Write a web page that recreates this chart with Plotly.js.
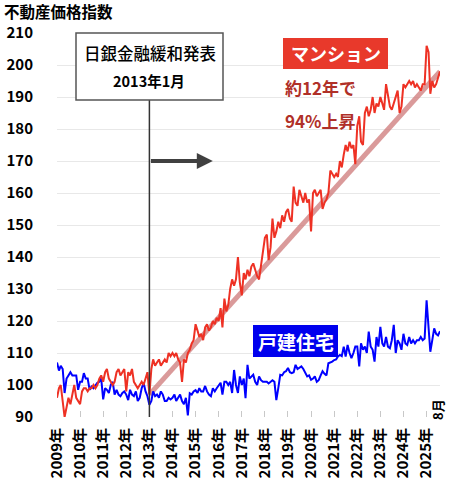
<!DOCTYPE html>
<html><head><meta charset="utf-8">
<script src="https://cdn.plot.ly/plotly-3.0.1.min.js"></script>
<style>html,body{margin:0;padding:0;background:#fff}#chart{width:450px;height:483px}</style>
</head><body><div id="chart"></div>
<script>
// マンション (monthly, Jan..Dec)
const red2009=[96,99,100,95,90,93,96,94,97,100,96,95];
const red2010=[94,98,99,99,98,99,99,100,99,100,102,103];
const red2011=[101,104,105,102,101,100,101,104,105,103,104,105];
const red2012=[98,104,103,105,101,100,99,100,101,100,102,104];
const red2013=[97,105,108,106,107,108,106,107,108,107,110,109];
const red2014=[110,109,110,108,107,101,108,107,110,111,113,114];
const red2015=[119,117,115,116,114,118,119,117,118,120,119,121];
const red2016=[120,124,118,127,123,125,130,133,131,133,140,132];
const red2017=[128,135,133,136,134,137,138,136,134,133,137,142];
const red2018=[146,147,139,143,152,146,148,151,149,153,151,154];
const red2019=[155,152,151,162,157,156,161,159,157,160,157,158];
const red2020=[148,160,161,159,160,161,155,157,158,160,167,166];
const red2021=[165,166,165,170,168,172,175,173,176,174,175,169];
const red2022=[181,184,176,175,185,187,184,186,190,185,188,187];
const red2023=[190,188,186,194,191,187,186,188,190,192,185,187];
const red2024=[194,193,194,195,194,195,193,194,193,192,194,194];
const red2025=[206,204,191,195,193,194,196,198];
// 戸建住宅
const blue2009=[107,104.5,106,105,97.5,102,103,104,103,103,103,98.5];
const blue2010=[101,101,103.7,102,102,98.5,99.5,99,100,100.7,101,102];
const blue2011=[95.5,99,98.5,97.5,100,101,97,98.5,97,96.5,97.5,98];
const blue2012=[97,95.3,98.5,97,96.5,98,95,96,99,100.7,98,96.5];
const blue2013=[93.8,95,98,96.5,97,96,98,97,95,95,96,95.5];
const blue2014=[96,97,95,96,97,95,94,96,90.5,97.4,97,98];
const blue2015=[98.4,97.5,99,98,98,99.7,98,97,96.5,99,98,99];
const blue2016=[99.7,100.7,97,101,101,100,101,97.5,104.7,100,97.5,102.7];
const blue2017=[100,102,95.9,106.3,102,102.7,103.2,101,100,102.7,101.5,101];
const blue2018=[101,101,100.5,101,101.5,101,95.3,99,103.2,103,104,104.3];
const blue2019=[105.3,104,103.7,104,106.3,105,105.3,105.8,105,103.7,102.7,103];
const blue2020=[101.6,102,102.7,101,101.5,103,104.3,103.5,103,106.8,107,107.3];
const blue2021=[107.8,108,108.9,109.4,109,112,108.9,112.5,110,108.4,110,112];
const blue2022=[112,105.8,113,111,112,110,116.7,112,111,107.3,115,112];
const blue2023=[118.2,113,112,115,112,111.5,114,118.8,110,114,113,111];
const blue2024=[116,113,112.5,115,113,114,113,114,114,115,114,114.5];
const blue2025=[126.5,118,110.4,114,117.7,116,115.5,116.8];

const trendX=['2013-01-01','2025-08-01'];
const trendY=[97,198];

const tickVals=['2009-01-01','2010-01-01','2011-01-01','2012-01-01','2013-01-01','2014-01-01','2015-01-01','2016-01-01','2017-01-01','2018-01-01','2019-01-01','2020-01-01','2021-01-01','2022-01-01','2023-01-01','2024-01-01','2025-01-01'];
const tickLabels=['2009年','2010年','2011年','2012年','2013年','2014年','2015年','2016年','2017年','2018年','2019年','2020年','2021年','2022年','2023年','2024年','2025年'];
const yTicks=[90,100,110,120,130,140,150,160,170,180,190,200,210];

const redY=[].concat(red2009,red2010,red2011,red2012,red2013,red2014,red2015,red2016,red2017,red2018,red2019,red2020,red2021,red2022,red2023,red2024,red2025);
const blueY=[].concat(blue2009,blue2010,blue2011,blue2012,blue2013,blue2014,blue2015,blue2016,blue2017,blue2018,blue2019,blue2020,blue2021,blue2022,blue2023,blue2024,blue2025);
function months(n){const a=[];for(let i=0;i<n;i++){const y=2009+Math.floor(i/12),m=i%12+1;a.push(y+'-'+String(m).padStart(2,'0')+'-01');}return a;}
const X=months(redY.length);

const F='"Noto Sans CJK JP", "Noto Sans", sans-serif';
const W=450,H=483,L=57,R=10,T=33,B=66;
const pw=W-L-R, ph=H-T-B;
const px=v=>(v-L)/pw, py=v=>(H-B-v)/ph;

const data=[
 {x:trendX,y:trendY,mode:'lines',line:{color:'rgba(205,120,120,0.75)',width:5},hoverinfo:'skip'},
 {x:X,y:blueY,mode:'lines',line:{color:'#0000ff',width:2},name:'戸建住宅'},
 {x:X,y:redY,mode:'lines',line:{color:'#ee3124',width:2},name:'マンション'}
];
const layout={
 width:W,height:H,margin:{l:L,r:R,t:T,b:B},showlegend:false,
 paper_bgcolor:'#fff',plot_bgcolor:'#fff',font:{family:F,color:'#000'},
 title:{text:'不動産価格指数',x:4/W,xanchor:'left',xref:'container',y:1-13/H,yanchor:'middle',yref:'container',font:{family:F,size:15.5,weight:'bold',color:'#000'}},
 xaxis:{type:'date',range:['2009-01-01','2025-08-01'],tickvals:tickVals,ticktext:tickLabels,tickangle:-90,
   tickfont:{family:F,size:15,weight:'bold',color:'#000'},ticks:'inside',ticklen:6,tickcolor:'#c8c8c8',
   showgrid:false,zeroline:false,showline:false,ticklabelstandoff:7,fixedrange:true},
 yaxis:{range:[90,210],tickvals:yTicks,tickfont:{family:F,size:15,weight:'bold',color:'#000'},
   showgrid:true,gridcolor:'#e8e8e8',gridwidth:1,zeroline:false,showline:false,ticks:'',ticklabelstandoff:23,fixedrange:true},
 shapes:[
  {type:'line',xref:'x',yref:'paper',x0:'2013-01-01',x1:'2013-01-01',y0:0,y1:py(100),line:{color:'#333',width:1.5},layer:'above'},
  {type:'rect',xref:'paper',yref:'paper',x0:px(76),x1:px(223),y0:py(100),y1:py(33),fillcolor:'#fff',line:{color:'#555',width:1.5},layer:'above'},
  {type:'rect',xref:'paper',yref:'paper',x0:px(283),x1:px(388),y0:py(69),y1:py(38),fillcolor:'#e8392b',line:{width:0},layer:'above'},
  {type:'rect',xref:'paper',yref:'paper',x0:px(253),x1:px(338),y0:py(357),y1:py(325),fillcolor:'#0000ee',line:{width:0},layer:'above'}
 ],
 annotations:[
  {xref:'paper',yref:'paper',x:px(150),y:py(53),text:'日銀金融緩和発表',showarrow:false,font:{family:F,size:16.5,weight:500,color:'#000'},xanchor:'center',yanchor:'middle'},
  {xref:'paper',yref:'paper',x:px(149),y:py(80),text:'2013年1月',showarrow:false,font:{family:F,size:14.5,weight:'bold',color:'#000'},xanchor:'center',yanchor:'middle'},
  {xref:'paper',yref:'paper',x:px(335.5),y:py(53.5),text:'マンション',showarrow:false,font:{family:F,size:18,weight:'bold',color:'#fff'},xanchor:'center',yanchor:'middle'},
  {xref:'paper',yref:'paper',x:px(320),y:py(88),text:'約12年で',showarrow:false,font:{family:F,size:17,weight:'bold',color:'#b03028'},xanchor:'center',yanchor:'middle'},
  {xref:'paper',yref:'paper',x:px(320),y:py(120),text:'94%上昇',showarrow:false,font:{family:F,size:17,weight:'bold',color:'#b03028'},xanchor:'center',yanchor:'middle'},
  {xref:'paper',yref:'paper',x:px(295.5),y:py(341),text:'戸建住宅',showarrow:false,font:{family:F,size:19,weight:'bold',color:'#fff'},xanchor:'center',yanchor:'middle'},
  {xref:'x',yref:'y',x:'2015-10-01',y:170,axref:'x',ayref:'y',ax:'2013-01-01',ay:170,text:'',showarrow:true,arrowhead:2,arrowsize:0.8,arrowwidth:4,arrowcolor:'#404040',standoff:0,startstandoff:0},
  {xref:'paper',yref:'paper',x:px(437),y:py(410),text:'8月',textangle:-90,showarrow:false,font:{family:F,size:13,weight:'bold',color:'#000'},xanchor:'center',yanchor:'middle'}
 ]
};
Plotly.newPlot('chart',data,layout,{staticPlot:true,displayModeBar:false});
</script></body></html>
